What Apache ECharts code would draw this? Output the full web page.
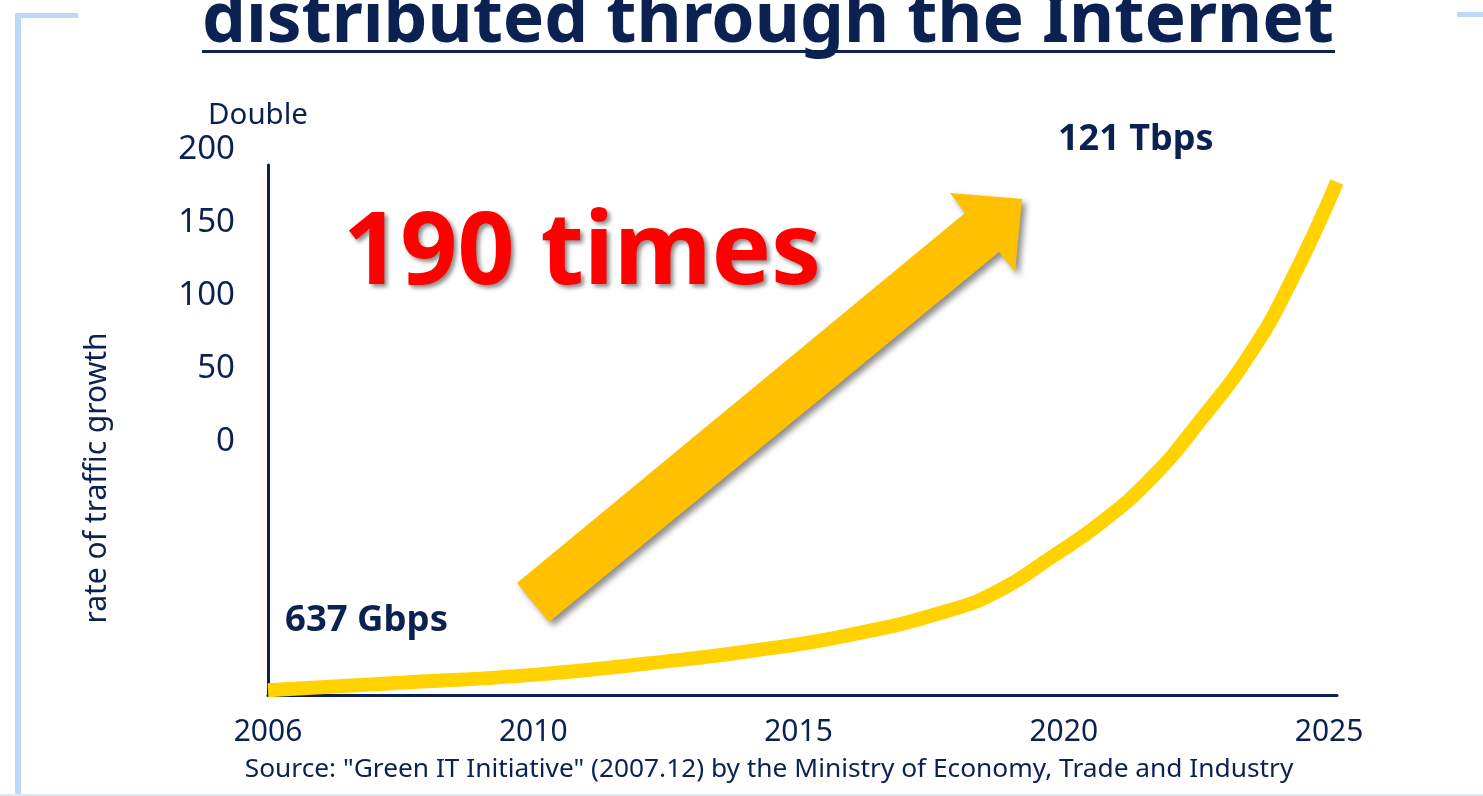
<!DOCTYPE html>
<html>
<head>
<meta charset="utf-8">
<script src="https://cdn.jsdelivr.net/npm/echarts@6/dist/echarts.min.js"></script>
<style>
html, body { margin: 0; padding: 0; background: #fff; }
#chart { width: 1483px; height: 796px; }
</style>
</head>
<body>
<div id="chart"></div>
<script>
const yearLabels = ['2006', '2010', '2015', '2020', '2025']
const growthLabels = ['0', '50', '100', '150', '200']
// curve: position along the year slots, height in % of the axis
const curveSlot = [0, 0.50, 1.00, 1.44, 1.82, 2.19, 2.57, 2.76, 2.95, 3.14, 3.33, 3.51, 3.70, 3.85, 4.03]
const curveLevel = [0.9, 2.3, 3.8, 6.0, 8.3, 11.3, 16.0, 19.8, 25.9, 32.5, 40.9, 51.5, 64.2, 77.4, 96.8]
const titleText = 'distributed through the Internet'
const startLabel = '637 Gbps'
const endLabel = '121 Tbps'
const growthText = '190 times'
const unitText = 'Double'
const axisName = 'rate of traffic growth'
const sourceText = 'Source: "Green IT Initiative" (2007.12) by the Ministry of Economy, Trade and Industry'

const navy = '#0B2152'
const font = "'Noto Sans', 'Open Sans', sans-serif"
const frame = '#BCDAF8'

const chart = echarts.init(document.getElementById('chart'))

const text = (x, y, str, size, extra) => ({
  type: 'text',
  x, y,
  z: 10,
  style: Object.assign({
    text: str,
    fontSize: size,
    fontFamily: font,
    fill: navy,
    align: 'left',
    verticalAlign: 'middle'
  }, extra || {})
})

chart.setOption({
  animation: false,
  grid: [
    { left: 268, top: 165, width: 1069, height: 530 },
    { left: 243, top: 150, width: 1, height: 292 }
  ],
  xAxis: [
    {
      type: 'value',
      gridIndex: 0,
      min: 0,
      max: 4.03,
      interval: 1,
      axisLine: { lineStyle: { color: navy, width: 3 } },
      axisTick: { show: false },
      splitLine: { show: false },
      axisLabel: {
        color: navy,
        fontSize: 30,
        fontFamily: font,
        margin: 22,
        showMaxLabel: false,
        formatter: (v) => Number.isInteger(v) ? (yearLabels[v] || '') : ''
      }
    },
    { type: 'value', gridIndex: 1, show: false }
  ],
  yAxis: [
    {
      type: 'value',
      gridIndex: 0,
      min: 0,
      max: 100,
      axisLine: { show: true, lineStyle: { color: navy, width: 3 } },
      axisTick: { show: false },
      axisLabel: { show: false },
      splitLine: { show: false }
    },
    {
      type: 'value',
      gridIndex: 1,
      min: 0,
      max: 200,
      interval: 50,
      axisLine: { show: false },
      axisTick: { show: false },
      splitLine: { show: false },
      axisLabel: {
        color: navy,
        fontSize: 33,
        fontFamily: font,
        margin: 8,
        formatter: (v) => growthLabels[v / 50]
      }
    }
  ],
  series: [
    {
      type: 'line',
      xAxisIndex: 0,
      yAxisIndex: 0,
      data: curveSlot.map((s, i) => [s, curveLevel[i]]),
      smooth: 0.5,
      showSymbol: false,
      clip: false,
      lineStyle: { color: '#FFD200', width: 14, cap: 'butt' }
    }
  ],
  graphic: [
    // light blue slide frame
    { type: 'rect', shape: { x: 15, y: 13, width: 6, height: 783 }, style: { fill: frame } },
    { type: 'rect', shape: { x: 15, y: 13, width: 63, height: 5 }, style: { fill: frame } },
    { type: 'rect', shape: { x: 1457, y: 12, width: 26, height: 5 }, style: { fill: frame } },
    { type: 'rect', shape: { x: 0, y: 794, width: 1483, height: 2 }, style: { fill: '#DCE8F5' } },
    // title + underline
    text(202, 22, titleText, 69.5, { fontWeight: 'bold' }),
    { type: 'rect', shape: { x: 202, y: 50, width: 1133, height: 3 }, style: { fill: navy } },
    // big arrow
    {
      type: 'polygon',
      z: 5,
      shape: { points: [[517, 583], [965, 213], [950, 193], [1022, 199], [1015, 272], [999, 252], [549, 622]] },
      style: {
        fill: '#FFC000',
        shadowBlur: 6,
        shadowColor: 'rgba(0,0,0,0.45)',
        shadowOffsetX: 4,
        shadowOffsetY: 4
      }
    },
    text(343, 256, growthText, 100, {
      fontWeight: 'bold',
      fill: '#FF0000',
      textShadowColor: 'rgba(0,0,0,0.45)',
      textShadowBlur: 4,
      textShadowOffsetX: 3,
      textShadowOffsetY: 3
    }),
    text(285, 621, startLabel, 36.5, { fontWeight: 'bold' }),
    text(1058, 140, endLabel, 36, { fontWeight: 'bold' }),
    text(208, 116, unitText, 29.5),
    text(769, 770, sourceText, 26.3, { align: 'center' }),
    {
      type: 'text',
      x: 97,
      y: 478,
      rotation: Math.PI / 2,
      z: 10,
      style: {
        text: axisName,
        fontSize: 30,
        fontFamily: font,
        fill: navy,
        align: 'center',
        verticalAlign: 'middle'
      }
    }
  ]
})
</script>
</body>
</html>
